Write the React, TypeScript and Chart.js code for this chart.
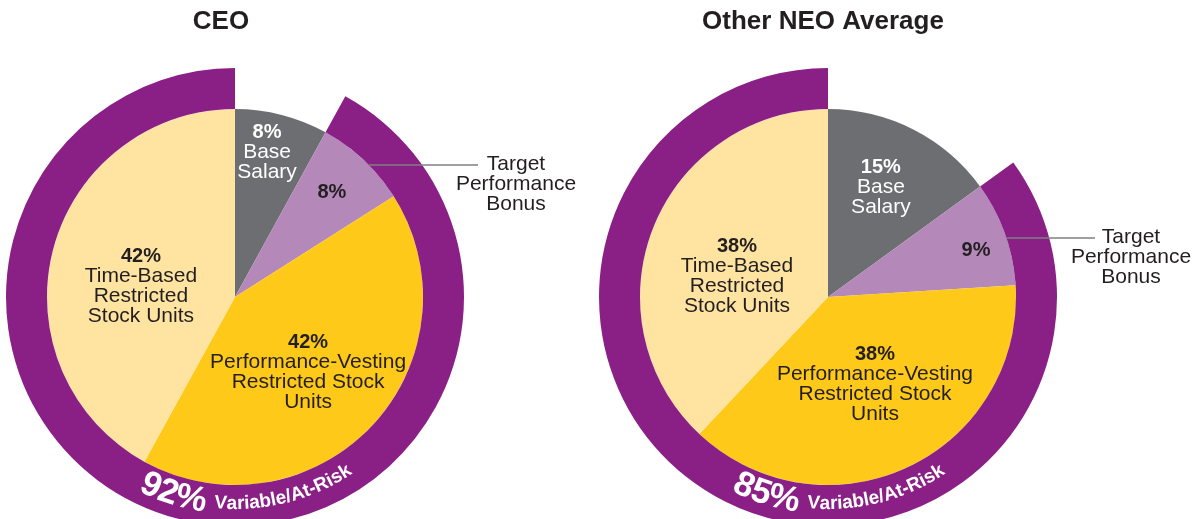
import React, { useEffect, useRef } from "react";
import { Chart, registerables } from "chart.js";

Chart.register(...registerables);

// ---------- data ----------
const categories = [
  "Base Salary",
  "Target Performance Bonus",
  "Performance-Vesting Restricted Stock Units",
  "Time-Based Restricted Stock Units",
];
const ceoValues = [8, 8, 42, 42];
const neoValues = [15, 9, 38, 38];
const ceoVariablePct = 92;
const neoVariablePct = 85;
const chartTitles = ["CEO", "Other NEO Average"];
const sliceTextLines = [
  ["Base", "Salary"],
  [],
  ["Performance-Vesting", "Restricted Stock", "Units"],
  ["Time-Based", "Restricted", "Stock Units"],
];
const calloutLines = ["Target", "Performance", "Bonus"];
const variableText = "Variable/At-Risk";

// ---------- styles ----------
const sliceColors = ["#6d6e71", "#b488b9", "#fec918", "#fee3a1"];
const ringColor = "#8a2086";
const darkText = "#231f20";
const FONT = "'Liberation Sans', Arial, Helvetica, sans-serif";

type Panel = {
  title: string;
  values: number[];
  variable: number;
  left: number;
  width: number;
  pad: { left: number; top: number; right: number; bottom: number };
  titleDx: number;
  labelPos: [number, number][];
  labelColors: string[];
  callout: { angle: number; lineEndDx: number; textDx: number };
};

const panels: Panel[] = [
  {
    title: chartTitles[0],
    values: ceoValues,
    variable: ceoVariablePct,
    left: 0,
    width: 598,
    pad: { left: 6, top: 68, right: 134, bottom: 14 },
    titleDx: -14,
    labelPos: [
      [11.4, 0.863],
      [44.4, 0.737],
      [124.9, 0.474],
      [290.4, 0.534],
    ],
    labelColors: ["#ffffff", darkText, darkText, darkText],
    callout: { angle: 45.4, lineEndDx: 243, textDx: 281 },
  },
  {
    title: chartTitles[1],
    values: neoValues,
    variable: neoVariablePct,
    left: 598,
    width: 599,
    pad: { left: 1, top: 68, right: 140, bottom: 14 },
    titleDx: -5,
    labelPos: [
      [23.1, 0.717],
      [74.5, 0.817],
      [143.3, 0.418],
      [296.3, 0.54],
    ],
    labelColors: ["#ffffff", darkText, darkText, darkText],
    callout: { angle: 71.7, lineEndDx: 267, textDx: 303 },
  },
];

const CANVAS_H = 540;

function drawArcText(
  ctx: CanvasRenderingContext2D,
  cx: number,
  cy: number,
  segments: { text: string; font: string; r: number; gapAfter: number }[],
  startDeg: number
) {
  let phi = (startDeg * Math.PI) / 180;
  for (const seg of segments) {
    ctx.font = seg.font;
    for (const ch of seg.text) {
      const w = ctx.measureText(ch).width;
      const a = phi - w / 2 / seg.r;
      ctx.save();
      ctx.translate(cx + seg.r * Math.cos(a), cy + seg.r * Math.sin(a));
      ctx.rotate(a - Math.PI / 2);
      ctx.textAlign = "center";
      ctx.textBaseline = "alphabetic";
      ctx.fillText(ch, 0, 0);
      ctx.restore();
      phi -= w / seg.r;
    }
    phi -= seg.gapAfter / seg.r;
  }
}

function makeDecorPlugin(panel: Panel) {
  return {
    id: "decor",
    afterDatasetsDraw(chart: any) {
      const ctx: CanvasRenderingContext2D = chart.ctx;
      const pieMeta = chart.getDatasetMeta(1);
      const ringMeta = chart.getDatasetMeta(0);
      const arc0: any = pieMeta.data[0];
      const cx = arc0.x;
      const cy = arc0.y;
      const R = arc0.outerRadius;
      const ringArc: any = ringMeta.data[1];
      const rIn = ringArc.innerRadius;
      const rOut = ringArc.outerRadius;

      ctx.save();
      // title
      ctx.fillStyle = darkText;
      ctx.font = `bold 26px ${FONT}`;
      ctx.textAlign = "center";
      ctx.textBaseline = "alphabetic";
      ctx.fillText(panel.title, cx + panel.titleDx, 29);

      // slice labels
      panel.values.forEach((v, i) => {
        const [deg, frac] = panel.labelPos[i];
        const t = (deg * Math.PI) / 180;
        const x = cx + frac * R * Math.sin(t);
        const y = cy - frac * R * Math.cos(t);
        ctx.fillStyle = panel.labelColors[i];
        ctx.textAlign = "center";
        ctx.font = `bold 20px ${FONT}`;
        ctx.fillText(`${v}%`, x, y);
        ctx.font = `21px ${FONT}`;
        sliceTextLines[i].forEach((line, k) => {
          ctx.fillText(line, x, y + 20 * (k + 1));
        });
      });

      // callout for bonus
      const ca = (panel.callout.angle * Math.PI) / 180;
      const lx = cx + R * Math.sin(ca);
      const ly = cy - R * Math.cos(ca);
      ctx.strokeStyle = "#7f7f7f";
      ctx.lineWidth = 1.5;
      ctx.beginPath();
      ctx.moveTo(lx, ly);
      ctx.lineTo(cx + panel.callout.lineEndDx, ly);
      ctx.stroke();
      ctx.fillStyle = darkText;
      ctx.font = `21px ${FONT}`;
      ctx.textAlign = "center";
      calloutLines.forEach((line, k) => {
        ctx.fillText(line, cx + panel.callout.textDx, ly + 5 + 20 * k);
      });

      // curved ring text
      ctx.fillStyle = "#ffffff";
      const thick = rOut - rIn;
      drawArcText(
        ctx,
        cx,
        cy,
        [
          { text: `${panel.variable}%`, font: `bold 35px ${FONT}`, r: rIn + 0.7 * thick, gapAfter: 9 },
          { text: variableText, font: `bold 19px ${FONT}`, r: rIn + 0.585 * thick, gapAfter: 0 },
        ],
        116.6
      );
      ctx.restore();
    },
  };
}

function PiePanel({ panel }: { panel: Panel }) {
  const ref = useRef<HTMLCanvasElement | null>(null);
  useEffect(() => {
    if (!ref.current) return;
    const chart = new Chart(ref.current, {
      type: "pie",
      data: {
        labels: categories,
        datasets: [
          {
            label: "Variable/At-Risk",
            data: [100 - panel.variable, panel.variable],
            backgroundColor: ["rgba(0,0,0,0)", ringColor],
            borderWidth: 0,
            weight: 41,
          } as any,
          {
            label: "Pay Mix",
            data: panel.values,
            backgroundColor: sliceColors,
            borderWidth: 0,
            weight: 188,
          } as any,
        ],
      },
      options: {
        responsive: false,
        animation: false,
        events: [],
        layout: { padding: panel.pad },
        plugins: {
          legend: { display: false },
          tooltip: { enabled: false },
          title: { display: false },
        },
      },
      plugins: [makeDecorPlugin(panel)],
    });
    return () => chart.destroy();
  }, [panel]);
  return (
    <canvas
      ref={ref}
      width={panel.width}
      height={CANVAS_H}
      style={{ position: "absolute", left: panel.left, top: 0, width: panel.width, height: CANVAS_H }}
    />
  );
}

export default function App() {
  return (
    <div
      style={{
        position: "fixed",
        left: 0,
        top: 0,
        width: 1197,
        height: 519,
        overflow: "hidden",
        background: "#ffffff",
      }}
    >
      {panels.map((p) => (
        <PiePanel key={p.title} panel={p} />
      ))}
    </div>
  );
}
